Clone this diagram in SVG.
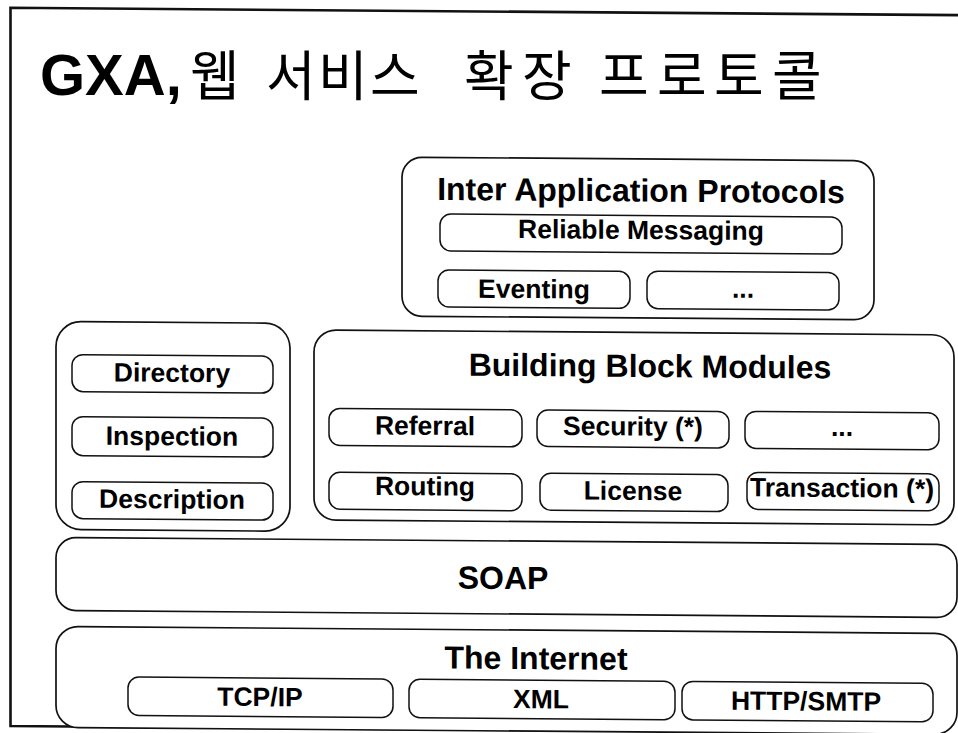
<svg xmlns="http://www.w3.org/2000/svg" width="958" height="733" viewBox="0 0 958 733">
  <style>
    .frame { fill: none; stroke: #111; stroke-width: 2.6; stroke-linecap: square; }
    .layer { fill: #fff; stroke: #111; stroke-width: 1.7; }
    .item { fill: #fff; stroke: #111; stroke-width: 1.5; }
    .head { font-family: "Liberation Sans", Arial, sans-serif; font-weight: bold; font-size: 32px; fill: #000; text-anchor: middle; }
    .lbl { font-family: "Liberation Sans", Arial, sans-serif; font-weight: bold; font-size: 26.5px; fill: #000; text-anchor: middle; }
    .latin { font-family: "Liberation Sans", Arial, sans-serif; font-weight: bold; font-size: 58px; fill: #000; }
    .ko { font-family: "Noto Sans CJK KR", "Noto Sans CJK SC", sans-serif; font-weight: 400; font-size: 54px; fill: #000; }
  </style>

  <rect width="958" height="733" fill="#fff"/>

  <!-- slide title; hangul placed glyph by glyph -->
  <g id="title">
    <text class="latin" x="40" y="95">GXA,</text>
    <text class="ko" x="190" y="96">웹</text>
    <text class="ko" x="266 318 370" y="96">서비스</text>
    <text class="ko" x="464 522" y="96">확장</text>
    <text class="ko" x="599 657 714 772" y="96">프로토콜</text>
  </g>

  <!-- the whole slide sits on a very slightly tilted page -->
  <g transform="matrix(1 0.0078 0 1 0 0)">

    <!-- slide border (open on the right) -->
    <g id="frame">
      <path class="frame" d="M958 7.7 H10.5 V726 H545"/>
    </g>

    <g id="inter-application-protocols">
      <rect class="layer" x="402" y="154" width="472" height="159" rx="20"/>
      <text class="head" x="641" y="196.5">Inter Application Protocols</text>
    </g>
    <g id="reliable-messaging">
      <rect class="item" x="440" y="210.5" width="402" height="37" rx="11"/>
      <text class="lbl" x="641" y="234">Reliable Messaging</text>
    </g>
    <g id="eventing">
      <rect class="item" x="438" y="266.5" width="192" height="37" rx="11"/>
      <text class="lbl" x="534" y="294">Eventing</text>
    </g>
    <g id="iap-more">
      <rect class="item" x="647" y="266" width="192" height="37.5" rx="11"/>
      <text class="lbl" x="743" y="292">...</text>
    </g>

    <g id="discovery-column">
      <rect class="layer" x="56" y="321" width="234" height="208" rx="25"/>
    </g>
    <g id="directory">
      <rect class="item" x="72" y="354" width="201" height="37" rx="11"/>
      <text class="lbl" x="172" y="380.5">Directory</text>
    </g>
    <g id="inspection">
      <rect class="item" x="72" y="416" width="201" height="39" rx="11"/>
      <text class="lbl" x="172" y="444">Inspection</text>
    </g>
    <g id="description">
      <rect class="item" x="72" y="481" width="201" height="37" rx="11"/>
      <text class="lbl" x="172" y="507">Description</text>
    </g>

    <g id="building-block-modules">
      <rect class="layer" x="314" y="327.5" width="640" height="190" rx="22"/>
      <text class="head" x="650" y="372">Building Block Modules</text>
    </g>
    <g id="referral">
      <rect class="item" x="329" y="405.8" width="193" height="37" rx="11"/>
      <text class="lbl" x="425" y="431.5">Referral</text>
    </g>
    <g id="security">
      <rect class="item" x="537" y="405.8" width="192" height="36.5" rx="11"/>
      <text class="lbl" x="633" y="430.5">Security (*)</text>
    </g>
    <g id="bbm-more">
      <rect class="item" x="745" y="405.5" width="194" height="37" rx="11"/>
      <text class="lbl" x="842" y="429.5">...</text>
    </g>
    <g id="routing">
      <rect class="item" x="329" y="469.7" width="193" height="37" rx="11"/>
      <text class="lbl" x="425" y="492">Routing</text>
    </g>
    <g id="license">
      <rect class="item" x="540" y="469" width="188" height="37" rx="11"/>
      <text class="lbl" x="633" y="495">License</text>
    </g>
    <g id="transaction">
      <rect class="item" x="747" y="466.5" width="192" height="37" rx="11"/>
      <text class="lbl" x="842" y="490.5">Transaction (*)</text>
    </g>

    <g id="soap">
      <rect class="layer" x="56" y="537" width="901" height="73" rx="20"/>
      <text class="head" x="503" y="585">SOAP</text>
    </g>

    <g id="the-internet">
      <rect class="layer" x="56" y="626" width="901" height="101" rx="22"/>
      <text class="head" x="536" y="665">The Internet</text>
    </g>
    <g id="tcp-ip">
      <rect class="item" x="128" y="676" width="265" height="38.5" rx="11"/>
      <text class="lbl" x="260" y="704">TCP/IP</text>
    </g>
    <g id="xml">
      <rect class="item" x="409" y="676" width="266" height="38.5" rx="11"/>
      <text class="lbl" x="541" y="704">XML</text>
    </g>
    <g id="http-smtp">
      <rect class="item" x="682" y="676" width="251" height="38.5" rx="11"/>
      <text class="lbl" x="806" y="704">HTTP/SMTP</text>
    </g>
  </g>
</svg>
